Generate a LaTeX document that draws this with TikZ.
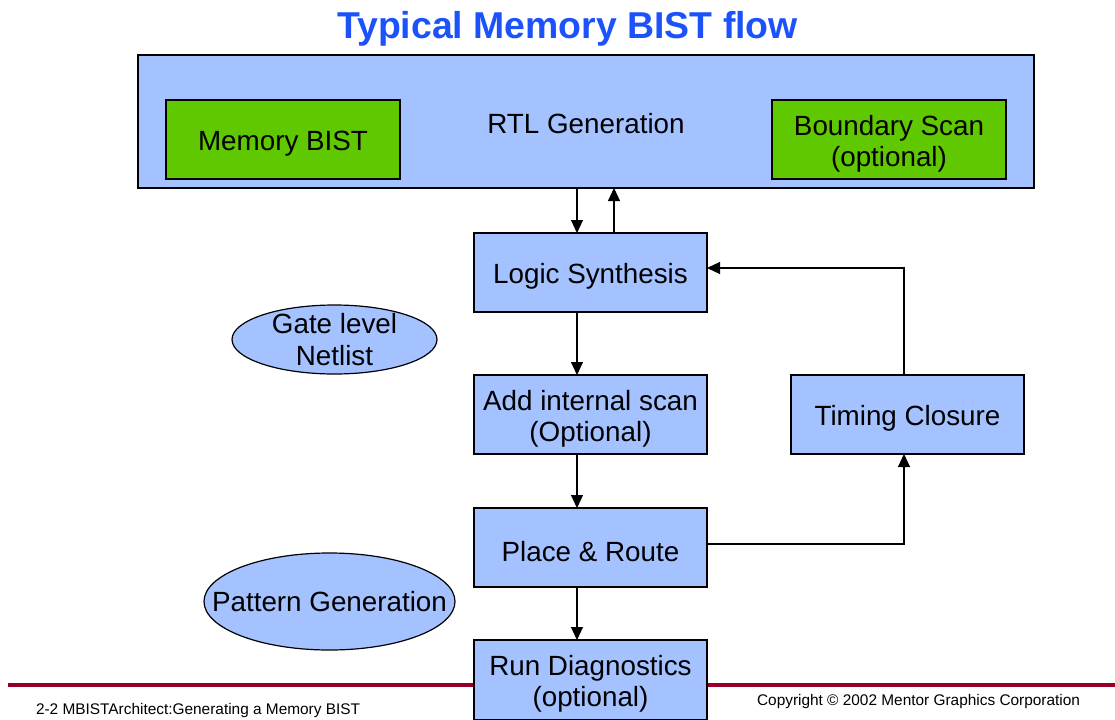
\documentclass[tikz,border=0pt]{standalone}
\usepackage{fontspec}
\setmainfont{Liberation Sans}
\usetikzlibrary{arrows.meta,shapes.geometric}

\definecolor{boxblue}{RGB}{164,194,255}
\definecolor{boxgreen}{RGB}{96,200,0}
\definecolor{titleblue}{RGB}{28,82,250}
\definecolor{footred}{RGB}{150,0,40}

\tikzset{
  every node/.style={inner sep=0pt, outer sep=0pt},
  flowbox/.style={draw=black, line width=0.6pt, fill=boxblue, rectangle,
    minimum width=116.5pt, minimum height=39.5pt},
  greenbox/.style={flowbox, fill=boxgreen, minimum width=117pt},
  bubble/.style={draw=black, line width=0.6pt, fill=boxblue, ellipse},
  boxtext/.style={align=center, font=\fontsize{13.9}{15.6}\selectfont},
  arr/.style={draw=black, line width=0.55pt, -{Triangle[length=6.5pt,width=6pt]}},
  foot/.style={font=\fontsize{7.7}{9}\selectfont}
}

\begin{document}
\begin{tikzpicture}[x=0.5pt, y=-0.5pt]
  \useasboundingbox (0,0) rectangle (1115,719);
  \clip (0,0) rectangle (1115,719);

  % title
  \node[font=\fontsize{18.7}{22}\selectfont\bfseries, text=titleblue] (title) at (567.5,29) {Typical Memory BIST flow};

  % columns used by the connectors
  \coordinate (colA) at (577,0);
  \coordinate (colB) at (614,0);
  \coordinate (colR) at (904,0);

  % RTL generation block with its two sub-blocks
  \node[flowbox, minimum width=448pt, minimum height=66.5pt] (rtl) at (586,121.5) {};
  \node[boxtext] (rtl-t) at ([yshift=-1pt]rtl.center) {RTL Generation};
  \node[greenbox] (mbist) at (283,139.5) {};
  \node[boxtext] (mbist-t) at ([yshift=-2pt]mbist.center) {Memory BIST};
  \node[greenbox] (bscan) at (889,139.5) {};
  \node[boxtext] (bscan-t) at ([yshift=-2pt]bscan.center) {Boundary Scan\\(optional)};

  % main flow
  \node[flowbox] (logic) at (590.5,272.5) {};
  \node[boxtext] (logic-t) at ([yshift=-2pt]logic.center) {Logic Synthesis};
  \node[flowbox] (addscan) at (590.5,414.5) {};
  \node[boxtext] (addscan-t) at ([yshift=-2pt]addscan.center) {Add internal scan\\(Optional)};
  \node[flowbox] (timing) at (907.5,414.5) {};
  \node[boxtext] (timing-t) at ([yshift=-2pt]timing.center) {Timing Closure};
  \node[flowbox] (place) at (590.5,547.5) {};
  \node[boxtext] (place-t) at ([yshift=-2pt]place.center) {Place \& Route};

  % side notes
  \node[bubble, minimum width=102.5pt, minimum height=34.5pt] (gate) at (334.5,339.5) {};
  \node[boxtext] (gate-t) at (gate.center) {Gate level\\Netlist};
  \node[bubble, minimum width=125.5pt, minimum height=48.5pt] (pattern) at (329.5,601.5) {};
  \node[boxtext] (pattern-t) at (pattern.center) {Pattern Generation};

  % footer rule (behind the last box)
  \draw[footred, line width=1.8pt] (8,685) coordinate (ruleL) -- (1115,685) coordinate (ruleR);

  \node[flowbox, minimum height=40pt] (rundiag) at (590.5,680) {};
  \node[boxtext] (rundiag-t) at ([yshift=-2pt]rundiag.center) {Run Diagnostics\\(optional)};

  % connectors
  \draw[arr] (rtl.south -| colA) -- (logic.north -| colA);
  \draw[arr] (logic.north -| colB) -- (rtl.south -| colB);
  \draw[arr] (logic.south -| colA) -- (addscan.north -| colA);
  \draw[arr] (addscan.south -| colA) -- (place.north -| colA);
  \draw[arr] (place.south -| colA) -- (rundiag.north -| colA);
  \draw[arr] ([yshift=1.75pt]place.east) -| (timing.south -| colR);
  \draw[arr] (timing.north -| colR) |- ([yshift=2.25pt]logic.east);

  % footer texts
  \node[foot, anchor=base west] (footL) at (36,714) {2-2 MBISTArchitect:Generating a Memory BIST};
  \node[foot, anchor=base east] (footR) at (1080,705) {Copyright © 2002 Mentor Graphics Corporation};
\end{tikzpicture}
\end{document}
